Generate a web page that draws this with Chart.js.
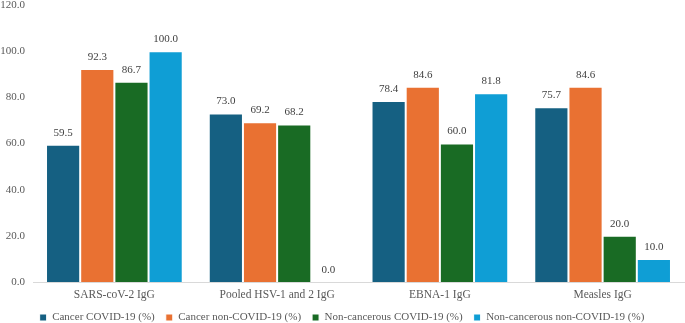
<!DOCTYPE html>
<html>
<head>
<meta charset="utf-8">
<script src="https://cdn.jsdelivr.net/npm/chart.js@4"></script>
<style>
  html, body { margin: 0; padding: 0; background: #fff; }
  #wrap { width: 685px; height: 323px; }
</style>
</head>
<body>
<div id="wrap"><canvas id="grafico"></canvas></div>
<script>
// DADOS
const categorias = ['SARS-coV-2 IgG', 'Pooled HSV-1 and 2 IgG', 'EBNA-1 IgG', 'Measles IgG']
const cancerCovid = [59.5, 73.0, 78.4, 75.7]
const cancerNonCovid = [92.3, 69.2, 84.6, 84.6]
const nonCancerCovid = [86.7, 68.2, 60.0, 20.0]
const nonCancerNonCovid = [100.0, 0.0, 81.8, 10.0]
const yTicks = [0, 20, 40, 60, 80, 100, 120]

const fonte = '"Liberation Serif", "Times New Roman", serif'

// rotulos acima das barras
const rotulosPlugin = {
    id: 'rotulos',
    afterDatasetsDraw(chart) {
        const ctx = chart.ctx
        ctx.save()
        ctx.font = '11px ' + fonte
        ctx.fillStyle = '#404040'
        ctx.textAlign = 'center'
        ctx.textBaseline = 'middle'
        chart.data.datasets.forEach(function(ds, i) {
            chart.getDatasetMeta(i).data.forEach(function(bar, j) {
                ctx.fillText(ds.data[j].toFixed(1), bar.x, bar.y - 12)
            })
        })
        ctx.restore()
    }
}

function serie(label, dados, cor) {
    return {
        label: label,
        data: dados,
        backgroundColor: cor,
        borderColor: '#ffffff',
        borderWidth: 1,
        borderSkipped: 'bottom',
        categoryPercentage: 0.84,
        barPercentage: 1.0
    }
}

var ctx = document.getElementById('grafico').getContext('2d')

var grafico = new Chart(ctx, {
    type: 'bar',
    data: {
        labels: categorias,
        datasets: [
            serie('Cancer COVID-19 (%)', cancerCovid, '#156082'),
            serie('Cancer non-COVID-19 (%)', cancerNonCovid, '#E97132'),
            serie('Non-cancerous COVID-19 (%)', nonCancerCovid, '#196B24'),
            serie('Non-cancerous non-COVID-19 (%)', nonCancerNonCovid, '#0F9ED5')
        ]
    },
    options: {
        responsive: true,
        maintainAspectRatio: false,
        animation: false,
        layout: { padding: { top: 0, right: 1, left: 0, bottom: -10 } },
        scales: {
            x: {
                clip: false,
                grid: { display: false, drawTicks: false },
                border: { display: true, color: '#d9d9d9', width: 1 },
                ticks: { color: '#595959', font: { family: fonte, size: 11.5 }, padding: 6 },
                afterFit: function(axis) { axis.height = 19 }
            },
            y: {
                min: 0,
                max: 120,
                afterBuildTicks: function(axis) {
                    axis.ticks = yTicks.map(function(v) { return { value: v } })
                },
                grid: { display: false, drawTicks: false },
                border: { display: false },
                ticks: {
                    color: '#595959',
                    font: { family: fonte, size: 11 },
                    padding: 8,
                    callback: function(v) { return Number(v).toFixed(1) }
                },
                afterFit: function(axis) {
                    axis.width = 33
                    axis.paddingTop = 5
                }
            }
        },
        plugins: {
            legend: {
                position: 'bottom',
                labels: {
                    color: '#595959',
                    font: { family: fonte, size: 11 },
                    boxWidth: 7,
                    boxHeight: 7,
                    padding: 11
                }
            },
            tooltip: { enabled: false }
        }
    },
    plugins: [rotulosPlugin]
})
</script>
</body>
</html>
